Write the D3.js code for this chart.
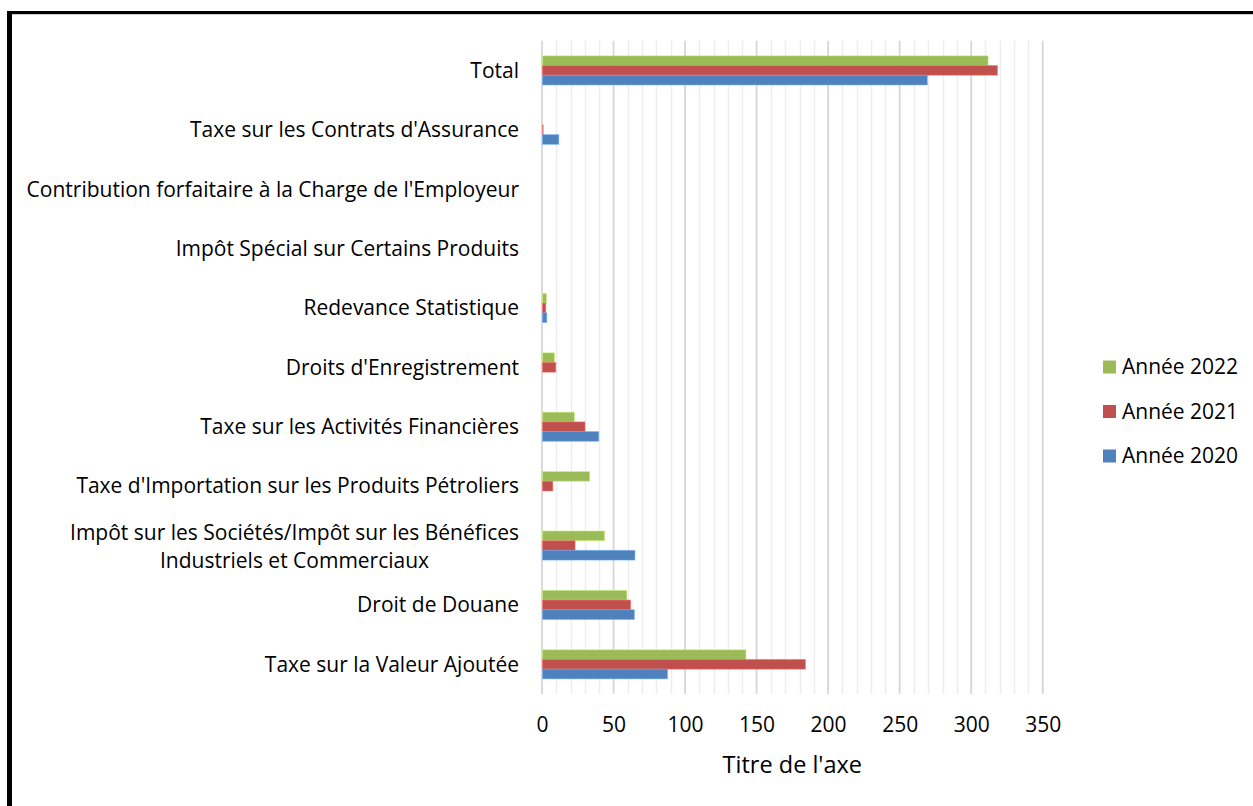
<!DOCTYPE html>
<html><head><meta charset="utf-8">
<script src="https://cdn.jsdelivr.net/npm/d3@7"></script>
<style>body{margin:0;background:#fff;} svg{display:block;} text{font-family:"Open Sans", Lato, sans-serif;fill:#000;}</style>
</head><body>
<svg id="c" width="1253" height="806"></svg>
<script>
const categories = [
  "Total",
  "Taxe sur les Contrats d'Assurance",
  "Contribution forfaitaire à la Charge de l'Employeur",
  "Impôt Spécial sur Certains Produits",
  "Redevance Statistique",
  "Droits d'Enregistrement",
  "Taxe sur les Activités Financières",
  "Taxe d'Importation sur les Produits Pétroliers",
  "Impôt sur les Sociétés/Impôt sur les Bénéfices|Industriels et Commerciaux",
  "Droit de Douane",
  "Taxe sur la Valeur Ajoutée"
];
const seriesNames = ["Année 2022", "Année 2021", "Année 2020"];
const values2022 = [311.5, 0, 0, 0, 2.8, 8.4, 22.3, 33, 43.4, 59, 142.2];
const values2021 = [318, 0.5, 0, 0, 2.3, 9.3, 29.7, 7.2, 22.8, 61.6, 183.8];
const values2020 = [269, 11.4, 0, 0, 3, 0, 39.3, 0, 64.6, 64.2, 87.4];
const seriesColors = ["#9BBB59", "#C0504D", "#4F81BD"];
const tickValues = [0, 50, 100, 150, 200, 250, 300, 350];
const axisTitle = "Titre de l'axe";

const svg = d3.select("#c");
const series = [values2022, values2021, values2020];

// frame
svg.append("line").attr("x1", 9.5).attr("x2", 9.5).attr("y1", 11).attr("y2", 806).attr("stroke", "#000").attr("stroke-width", 5);
svg.append("line").attr("x1", 7).attr("x2", 1253).attr("y1", 12.5).attr("y2", 12.5).attr("stroke", "#000").attr("stroke-width", 3);
svg.append("line").attr("x1", 12).attr("x2", 1253).attr("y1", 14.5).attr("y2", 14.5).attr("stroke", "#ccc").attr("stroke-width", 1);

const x = d3.scaleLinear().domain([0, 350]).range([542, 1042.7]);
const y = d3.scaleBand().domain(categories).range([40.7, 694]).paddingInner(0).paddingOuter(0);
const inner = d3.scaleBand().domain(d3.range(3)).range([0, 29.1]);
const barTop = c => y(c) + y.bandwidth() / 2 - 14.55;

// minor gridlines
const minor = d3.range(0, 351, 10).filter(v => v % 50 !== 0);
svg.append("g").selectAll("line").data(minor).join("line")
  .attr("x1", d => Math.round(x(d)) + 0.5).attr("x2", d => Math.round(x(d)) + 0.5)
  .attr("y1", 40.7).attr("y2", 694).attr("stroke", "#ededed").attr("stroke-width", 1.5);
// major gridlines
svg.append("g").selectAll("line").data(tickValues).join("line")
  .attr("x1", d => x(d)).attr("x2", d => x(d))
  .attr("y1", 40.7).attr("y2", 694).attr("stroke", "#d6d6d6").attr("stroke-width", 1.8);

// bars
series.forEach((vals, si) => {
  svg.append("g").selectAll("rect").data(categories).join("rect")
    .attr("x", x(0) + 0.5)
    .attr("y", c => barTop(c) + inner(si))
    .attr("width", (c, i) => Math.max(0, x(vals[i]) - x(0)))
    .attr("height", inner.bandwidth())
    .attr("fill", seriesColors[si])
    .attr("stroke", d3.color(seriesColors[si]).brighter(0.8))
    .attr("stroke-opacity", 0.5)
    .attr("stroke-width", (c, i) => vals[i] > 0 ? 1 : 0);
});

// category labels
const fs = 21;
const lab = svg.append("g");
categories.forEach(c => {
  const lines = c.split("|");
  const cy = y(c) + y.bandwidth() / 2;
  if (lines.length === 1) {
    lab.append("text").attr("x", 519).attr("y", cy).attr("dy", "0.35em")
      .attr("text-anchor", "end").attr("font-size", fs).text(lines[0]);
  } else {
    const t1 = lab.append("text").attr("x", 519).attr("y", cy - 13).attr("dy", "0.35em")
      .attr("text-anchor", "end").attr("font-size", fs).text(lines[0]);
    const w = t1.node().getComputedTextLength();
    lab.append("text").attr("x", 519 - w / 2).attr("y", cy + 15).attr("dy", "0.35em")
      .attr("text-anchor", "middle").attr("font-size", fs).text(lines[1]);
  }
});

// x axis
const ax = svg.append("g").attr("transform", "translate(0,725)")
  .call(d3.axisBottom(x).tickValues(tickValues).tickSize(0).tickPadding(0).tickFormat(d3.format("d")));
ax.select(".domain").remove();
ax.selectAll("text").attr("font-size", 21).attr("dy", "0.35em").style("font-family", "\"Open Sans\"");

svg.append("text").attr("x", (x(0) + x(350)) / 2).attr("y", 765).attr("dy", "0.35em").attr("text-anchor", "middle")
  .attr("font-size", 23.5).text(axisTitle);

// legend
const lg = svg.append("g");
seriesNames.forEach((n, i) => {
  const cy = 367 + i * 44.5;
  lg.append("rect").attr("x", 1103).attr("y", cy - 6.5).attr("width", 13).attr("height", 13).attr("fill", seriesColors[i]);
  lg.append("text").attr("x", 1122).attr("y", cy).attr("dy", "0.35em").attr("font-size", 21).text(n);
});
</script>
</body></html>
